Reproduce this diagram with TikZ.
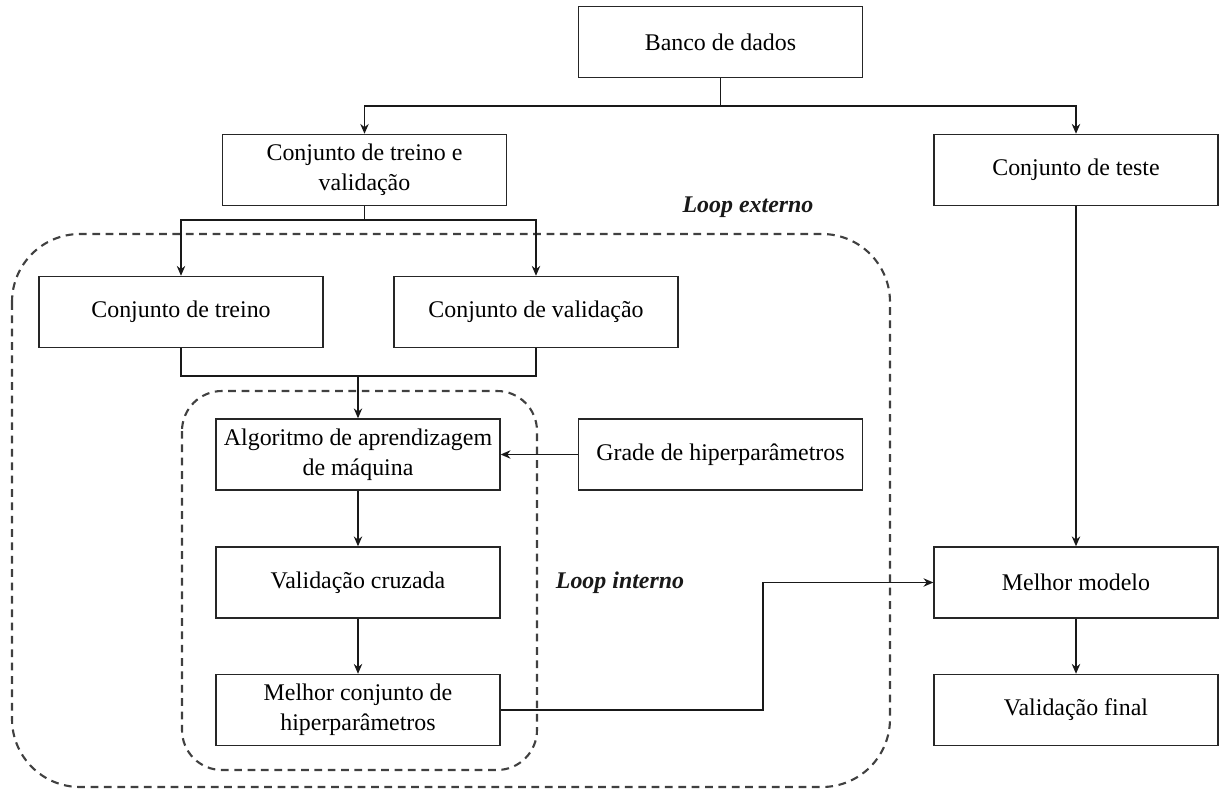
\documentclass[tikz,border=0pt]{standalone}
\usepackage{fontspec}
\setmainfont{Liberation Serif}
\usetikzlibrary{arrows.meta}

\begin{document}
\begin{tikzpicture}[
    x=0.025cm, y=-0.025cm,
    >={Stealth[length=7pt, width=6pt]},
    font=\fontsize{17}{21}\selectfont,
    % Core styles: plain boxes, dashed loop frames
    box/.style={draw=black!85, line width=0.9pt, fill=white, align=center, minimum width=7.1cm, minimum height=1.78cm, inner sep=1mm},
    loop_frame/.style={draw=black!75, line width=1.5pt, dash pattern=on 5.5pt off 4pt},
    loop_label/.style={font=\fontsize{17}{21}\selectfont\bfseries\itshape, text=black!90},
    link/.style={line width=0.9pt, draw=black!90},
    flow/.style={->, line width=0.9pt, draw=black!90}
  ]

  % Bounding box locked to the 1219 x 789 canvas
  \useasboundingbox (0, 0) rectangle (1219, 789);

  % ---------------------------------------------------------
  % LOOP FRAMES
  % ---------------------------------------------------------
  \draw[loop_frame, rounded corners=1.7cm] (12, 234) rectangle (890, 787);
  \draw[loop_frame, rounded corners=1.0cm] (182, 391) rectangle (537, 770);

  \node[loop_label] (externo) at (748, 207) {Loop externo};
  \node[loop_label] (interno) at (620, 583) {Loop interno};

  % ---------------------------------------------------------
  % DATA SPLITS
  % ---------------------------------------------------------
  \node[box] (banco) at (720.5, 42) {Banco de dados};
  \node[box] (tv) at (364.5, 170) {Conjunto de treino e\\validação};
  \node[box] (teste) at (1076, 170) {Conjunto de teste};
  \node[box] (treino) at (181, 312) {Conjunto de treino};
  \node[box] (validacao) at (536, 312) {Conjunto de validação};

  % ---------------------------------------------------------
  % INNER LOOP
  % ---------------------------------------------------------
  \node[box] (algoritmo) at (358, 454.5) {Algoritmo de aprendizagem\\de máquina};
  \node[box] (grade) at (720.5, 454.5) {Grade de hiperparâmetros};
  \node[box] (cruzada) at (358, 582.5) {Validação cruzada};
  \node[box] (melhorconj) at (358, 710) {Melhor conjunto de\\hiperparâmetros};

  % ---------------------------------------------------------
  % FINAL MODEL
  % ---------------------------------------------------------
  \node[box] (modelo) at (1076, 582.5) {Melhor modelo};
  \node[box] (final) at (1076, 710) {Validação final};

  % Branch points
  \coordinate (split_top) at (720.5, 106);
  \coordinate (split_tv) at (364.5, 220);
  \coordinate (merge) at (358, 376);
  \coordinate (bend) at (763, 710);

  % Connectors
  \draw[flow] (banco.south) -- (split_top) -| (tv.north);
  \draw[flow] (split_top) -| (teste.north);
  \draw[flow] (tv.south) -- (split_tv) -| (treino.north);
  \draw[flow] (split_tv) -| (validacao.north);
  \draw[link] (treino.south) |- (merge) -| (validacao.south);
  \draw[flow] (merge) -- (algoritmo.north);
  \draw[flow] (grade.west) -- (algoritmo.east);
  \draw[flow] (algoritmo) -- (cruzada);
  \draw[flow] (cruzada) -- (melhorconj);
  \draw[flow] (melhorconj.east) -- (bend) |- (modelo.west);
  \draw[flow] (teste) -- (modelo);
  \draw[flow] (modelo) -- (final);

\end{tikzpicture}
\end{document}
